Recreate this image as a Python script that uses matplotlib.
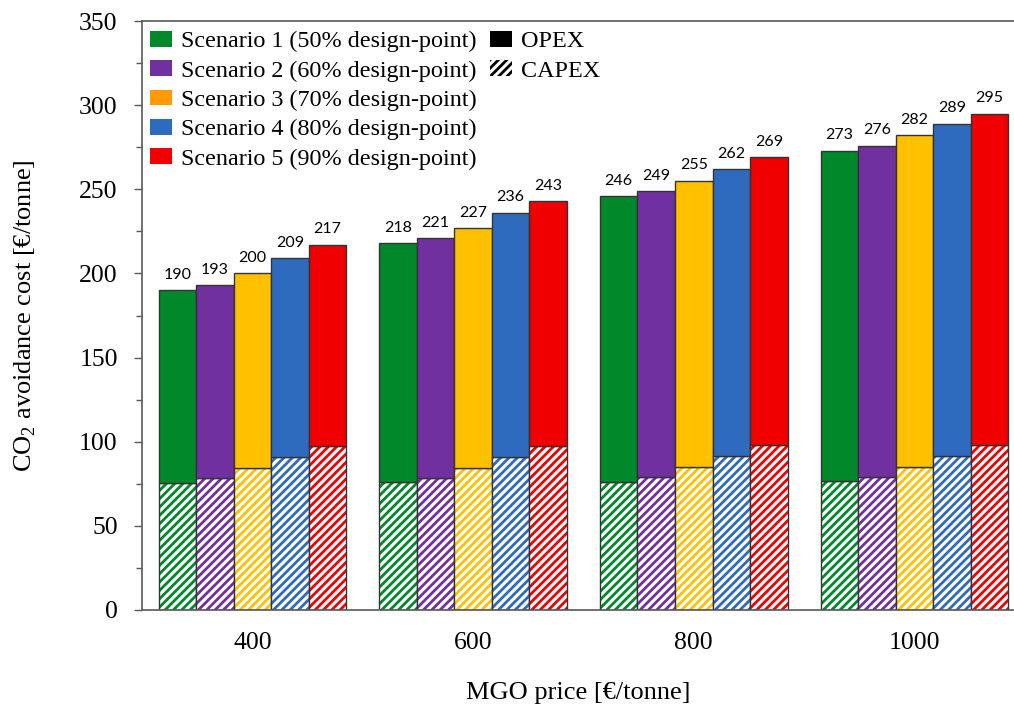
import matplotlib
matplotlib.use("Agg")
import matplotlib.pyplot as plt
from matplotlib.patches import Patch
import numpy as np

plt.rcParams['font.family'] = ['Liberation Serif', 'DejaVu Serif']
plt.rcParams['mathtext.fontset'] = 'custom'
plt.rcParams['mathtext.rm'] = 'Liberation Serif'
plt.rcParams['hatch.linewidth'] = 2.0

prices = ['400', '600', '800', '1000']
scenarios = ['Scenario 1 (50% design-point)', 'Scenario 2 (60% design-point)',
             'Scenario 3 (70% design-point)', 'Scenario 4 (80% design-point)',
             'Scenario 5 (90% design-point)']
colors = ['#00882B', '#7030A0', '#FFC000', '#2E6BBF', '#F00000']
legend_colors = ['#00882B', '#7030A0', '#FF9A00', '#2E6BBF', '#F00000']

# total cost per scenario (rows) for each MGO price (columns)
total = [
    [190, 218, 246, 273],
    [193, 221, 249, 276],
    [200, 227, 255, 282],
    [209, 236, 262, 289],
    [217, 243, 269, 295],
]
capex = [
    [75.3, 75.9, 76.0, 76.6],
    [78.7, 78.7, 79.0, 79.2],
    [84.3, 84.3, 84.8, 84.8],
    [91.2, 91.2, 91.7, 91.7],
    [97.4, 97.4, 98.0, 98.0],
]

fig = plt.figure(figsize=(10.14, 7.04), dpi=100)
ax = fig.add_axes([142/1014, (704-610)/704, 1 - 142/1014, (610-21)/704])

x = np.arange(len(prices))
w = 0.17
edge = '#333333'
for i in range(len(scenarios)):
    xi = x + (i - 2) * w
    cap = np.array(capex[i])
    tot = np.array(total[i])
    ope = tot - cap
    ax.bar(xi, cap, w, color='white', edgecolor=colors[i], hatch='////', linewidth=0)
    ax.bar(xi, cap, w, fill=False, edgecolor=edge, linewidth=1.0)
    ax.bar(xi, ope, w, bottom=cap, color=colors[i], edgecolor=edge, linewidth=1.0)
    for xx, t in zip(xi, tot):
        ax.text(xx, t + 5, f'{t:d}', ha='center', va='bottom', fontsize=11.5,
                family=['Lato', 'DejaVu Sans'])

ax.set_xlim(-0.5, (1014 - 252) / 220.8)
ax.set_ylim(0, 350)
ax.set_yticks(np.arange(0, 351, 50))
ax.set_yticks(np.arange(0, 351, 25), minor=True)
ax.set_xticks(x)
ax.set_xticklabels(prices)
ax.tick_params(axis='y', which='major', direction='out', length=6, width=1, colors='#595959',
               labelcolor='black', labelsize=18.5, pad=11.5)
ax.tick_params(axis='y', which='minor', direction='out', length=4.5, width=1, colors='#595959')
ax.tick_params(axis='x', length=0, labelsize=18.5, pad=16)
for s in ['left', 'top', 'bottom']:
    ax.spines[s].set_color('#595959')
    ax.spines[s].set_linewidth(1.2)
ax.spines['right'].set_visible(False)

ax.set_ylabel('CO$_\\mathregular{2}$ avoidance cost [€/tonne]', fontsize=19)
ax.yaxis.set_label_coords((38 - 142) / 872, 0.5)
ax.set_xlabel('MGO price [€/tonne]', fontsize=19, labelpad=20)

common = dict(frameon=False, fontsize=17.4, handlelength=0.9, handleheight=0.62,
              handletextpad=0.4, labelspacing=0.33, borderpad=0, borderaxespad=0,
              loc='upper left')
h1 = [Patch(facecolor=c, edgecolor='none') for c in legend_colors]
leg1 = ax.legend(h1, scenarios, bbox_to_anchor=(8 / 872, 1 - 10 / 589), **common)
ax.add_artist(leg1)
h2 = [Patch(facecolor='black', edgecolor='none'),
      Patch(facecolor='white', edgecolor='black', hatch='////', linewidth=0)]
ax.legend(h2, ['OPEX', 'CAPEX'], bbox_to_anchor=((490 - 142) / 872, 1 - 10 / 589), **common)

fig.savefig('out.png', dpi=100)
